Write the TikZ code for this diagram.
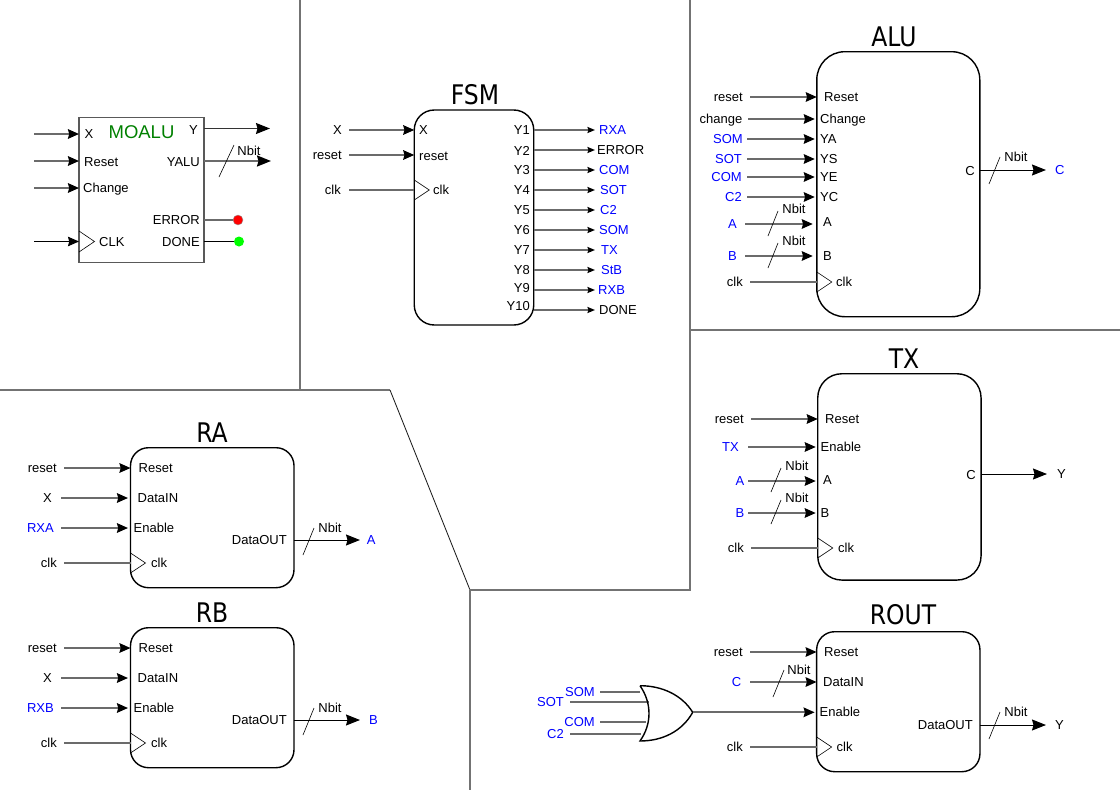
\documentclass[tikz,border=0pt]{standalone}
\usepackage{fontspec}
\setmainfont{Liberation Sans}
\newfontfamily\titlefont[FakeStretch=0.87]{DejaVu Sans}
\usetikzlibrary{arrows.meta}
\definecolor{sigblue}{HTML}{0000FF}
\definecolor{titlegreen}{HTML}{008000}
\definecolor{dotgreen}{HTML}{00FF00}

\begin{document}
\begin{tikzpicture}[x=1pt,y=-1pt]
\tikzset{
  block/.style={draw,line width=1.4pt,outer sep=0pt,inner sep=0pt},
  blocktitle/.style={inner sep=0pt,font=\titlefont\fontsize{27}{27}\selectfont},
  textbase/.style={inner ysep=0pt,text height=9.3pt,text depth=0pt,font=\fontsize{13}{13}\selectfont},
  inlabel/.style={textbase,anchor=east,inner xsep=7pt},
  outlabel/.style={textbase,anchor=west,inner xsep=4pt},
  portl/.style={textbase,anchor=west,inner xsep=0pt},
  portr/.style={textbase,anchor=east,inner xsep=0pt},
  nbit/.style={textbase,inner xsep=0pt},
  dot/.style={circle,minimum size=10pt,inner sep=0pt,outer sep=0pt},
  wire/.style={draw=black!58,line width=1.9pt},
  wiredark/.style={draw=black,line width=1pt},
  wiretip/.style={wire,-{Stealth[length=11pt,width=9.5pt,inset=1.2pt,color=black]}},
  wirebig/.style={wiredark,-{Stealth[length=14pt,width=11pt,inset=1.5pt,color=black]}},
  wiresmall/.style={wire,line width=1.6pt,-{Stealth[length=7.5pt,width=6pt,inset=1pt,color=black]}},
  slash/.style={line width=0.6pt},
  divider/.style={draw=black!55,line width=1.3pt}
}
\useasboundingbox (0,0) rectangle (1120,790);
% regions
\draw[divider] (300,0) -- (300,390);
\draw[divider] (0,390) -- (390,390);
\draw[line width=0.9pt,black!85] (390,390) -- (470,590);
\draw[divider] (470,790) -- (470,590) -- (690,590) -- (690,0);
\draw[divider] (690,330) -- (1120,330);
% MOALU
\node[block,draw=black!65,minimum width=125pt,minimum height=145pt] (n_MOALU) at (141.5,190) {};
\node[inner sep=0pt,text=titlegreen,font=\fontsize{18.5}{18.5}\selectfont] (t_MOALU) at (141.5,132) {MOALU};
\coordinate (c_x) at (34,134);
\coordinate (c_reset) at (34,161);
\coordinate (c_change) at (34,188);
\coordinate (c_clk) at (34,241.5);
\coordinate (c_y) at (270,128.5);
\coordinate (c_yalu) at (271,161);
\node[dot,draw=black!40,fill=red] (n_error) at (238,220) {};
\node[dot,fill=dotgreen] (n_done) at (239,241.5) {};
\node[portl] (p_mo_x) at (84.5,134) {X};
\node[portl] (p_mo_reset) at (84,161.5) {Reset};
\node[portl] (p_mo_change) at (83,188) {Change};
\node[portl] (p_mo_clk) at (99,242) {CLK};
\node[portr] (p_mo_y) at (198,130) {Y};
\node[portr] (p_mo_yalu) at (200,162) {YALU};
\node[portr] (p_mo_error) at (200,220) {ERROR};
\node[portr] (p_mo_done) at (200,242) {DONE};
\node[nbit] (b_mo) at (249,151) {Nbit};
\draw[wiretip] (c_x) -- (c_x -| n_MOALU.west);
\draw[wiretip] (c_reset) -- (c_reset -| n_MOALU.west);
\draw[wiretip] (c_change) -- (c_change -| n_MOALU.west);
\draw[wiretip,wiredark] (c_clk) -- (c_clk -| n_MOALU.west);
\draw[wirebig,line width=1.5pt,draw=black!80] (c_y -| n_MOALU.east) -- (c_y);
\draw[wirebig,line width=1.9pt,draw=black!58] (c_yalu -| n_MOALU.east) -- (c_yalu);
\draw[wire] (n_error -| n_MOALU.east) -- (n_error);
\draw[wiredark] (n_done -| n_MOALU.east) -- (n_done);
\draw[slash] ([shift={(-30,26)}]b_mo.center) -- ([shift={(-15,-6)}]b_mo.center);
\coordinate (k_mo) at (c_clk -| n_MOALU.west);
\draw[slash] ([yshift=10.5pt]k_mo) -- ([xshift=15.5pt]k_mo) -- ([yshift=-10.5pt]k_mo);
% FSM
\node[block,rounded corners=20pt,minimum width=119.5pt,minimum height=215pt] (n_FSM) at (474,217.5) {};
\node[blocktitle] (t_FSM) at (475,95) {FSM};
\node[inlabel] (l_fsm_x) at (349,130) {X};
\node[inlabel] (l_fsm_reset) at (349,155) {reset};
\node[inlabel,inner xsep=8pt] (l_fsm_clk) at (349,190) {clk};
\node[portl] (p_fsm_x) at (419,130) {X};
\node[portl] (p_fsm_reset) at (419,156) {reset};
\node[portl] (p_fsm_clk) at (433,190) {clk};
\node[portr] (p_fsm_y1) at (530,130) {Y1};
\node[portr] (p_fsm_y2) at (530,150.5) {Y2};
\node[portr] (p_fsm_y3) at (530,170) {Y3};
\node[portr] (p_fsm_y4) at (530,190) {Y4};
\node[portr] (p_fsm_y5) at (530,210) {Y5};
\node[portr] (p_fsm_y6) at (530,230) {Y6};
\node[portr] (p_fsm_y7) at (530,250) {Y7};
\node[portr] (p_fsm_y8) at (530,270) {Y8};
\node[portr] (p_fsm_y9) at (530,288) {Y9};
\node[portr] (p_fsm_y10) at (530,306) {Y10};
\node[outlabel,text=sigblue] (l_fsm_rxa) at (595,130) {RXA};
\node[outlabel,inner xsep=2pt] (l_fsm_error) at (595,150) {ERROR};
\node[outlabel,text=sigblue] (l_fsm_com) at (595,170) {COM};
\node[outlabel,text=sigblue,inner xsep=5pt] (l_fsm_sot) at (595,190) {SOT};
\node[outlabel,text=sigblue,inner xsep=5pt] (l_fsm_c2) at (595,210) {C2};
\node[outlabel,text=sigblue] (l_fsm_som) at (595,230) {SOM};
\node[outlabel,text=sigblue,inner xsep=6pt] (l_fsm_tx) at (595,250) {TX};
\node[outlabel,text=sigblue,inner xsep=6pt] (l_fsm_stb) at (595,270) {StB};
\node[outlabel,text=sigblue,inner xsep=3pt] (l_fsm_rxb) at (595,290) {RXB};
\node[outlabel] (l_fsm_done) at (595,310) {DONE};
\draw[wiretip] (l_fsm_x.east) -- (l_fsm_x.east -| n_FSM.west);
\draw[wiretip] (l_fsm_reset.east) -- (l_fsm_reset.east -| n_FSM.west);
\coordinate (k_fsm) at (l_fsm_clk.east -| n_FSM.west);
\draw[wire] (l_fsm_clk.east) -- (k_fsm);
\draw[slash] ([yshift=10pt]k_fsm) -- ([xshift=15pt]k_fsm) -- ([yshift=-10pt]k_fsm);
\draw[wiresmall] (l_fsm_rxa.west -| n_FSM.east) -- (l_fsm_rxa.west);
\draw[wiresmall] (l_fsm_error.west -| n_FSM.east) -- (l_fsm_error.west);
\draw[wiresmall] (l_fsm_com.west -| n_FSM.east) -- (l_fsm_com.west);
\draw[wiresmall] (l_fsm_sot.west -| n_FSM.east) -- (l_fsm_sot.west);
\draw[wiresmall] (l_fsm_c2.west -| n_FSM.east) -- (l_fsm_c2.west);
\draw[wiresmall] (l_fsm_som.west -| n_FSM.east) -- (l_fsm_som.west);
\draw[wiresmall] (l_fsm_tx.west -| n_FSM.east) -- (l_fsm_tx.west);
\draw[wiresmall] (l_fsm_stb.west -| n_FSM.east) -- (l_fsm_stb.west);
\draw[wiresmall] (l_fsm_rxb.west -| n_FSM.east) -- (l_fsm_rxb.west);
\draw[wiresmall] (l_fsm_done.west -| n_FSM.east) -- (l_fsm_done.west);
% ALU
\node[block,rounded corners=28pt,minimum width=163pt,minimum height=265pt] (n_ALU) at (898.3,184.2) {};
\node[blocktitle] (t_ALU) at (894,37) {ALU};
\node[inlabel] (l_alu_reset) at (750,97) {reset};
\node[inlabel,inner xsep=5.5pt] (l_alu_change) at (748,119) {change};
\node[inlabel,inner xsep=4pt,text=sigblue] (l_alu_som) at (747,139) {SOM};
\node[inlabel,inner xsep=5pt,text=sigblue] (l_alu_sot) at (747,159) {SOT};
\node[inlabel,inner xsep=5pt,text=sigblue] (l_alu_com) at (747,177) {COM};
\node[inlabel,inner xsep=5pt,text=sigblue] (l_alu_c2) at (747,197) {C2};
\node[inlabel,inner xsep=8pt,text=sigblue] (l_alu_a) at (745,224) {A};
\node[inlabel,inner xsep=8pt,text=sigblue] (l_alu_b) at (745,256) {B};
\node[inlabel] (l_alu_clk) at (750,282) {clk};
\node[portl] (p_alu_reset) at (824,97) {Reset};
\node[portl] (p_alu_change) at (820,119) {Change};
\node[portl] (p_alu_ya) at (820,139) {YA};
\node[portl] (p_alu_ys) at (820,159) {YS};
\node[portl] (p_alu_ye) at (820,177) {YE};
\node[portl] (p_alu_yc) at (820,197) {YC};
\node[portl] (p_alu_a) at (823,222) {A};
\node[portl] (p_alu_b) at (823,256) {B};
\node[portl] (p_alu_clk) at (836,282) {clk};
\node[portr] (p_alu_c) at (975,171) {C};
\node[nbit] (b_alu_a) at (794,209) {Nbit};
\node[nbit] (b_alu_b) at (794,241) {Nbit};
\node[nbit] (b_alu_c) at (1016,157) {Nbit};
\node[outlabel,inner xsep=9pt,text=sigblue] (l_alu_c) at (1046,170) {C};
\draw[wiretip] (l_alu_reset.east) -- (l_alu_reset.east -| n_ALU.west);
\draw[wiretip,shorten >=2pt] (l_alu_change.east) -- (l_alu_change.east -| n_ALU.west);
\draw[wiretip,shorten >=2pt] (l_alu_som.east) -- (l_alu_som.east -| n_ALU.west);
\draw[wiretip,shorten >=2pt] (l_alu_sot.east) -- (l_alu_sot.east -| n_ALU.west);
\draw[wiretip,shorten >=2pt] (l_alu_com.east) -- (l_alu_com.east -| n_ALU.west);
\draw[wiretip,shorten >=2pt] (l_alu_c2.east) -- (l_alu_c2.east -| n_ALU.west);
\draw[wiretip,shorten >=4pt] (l_alu_a.east) -- (l_alu_a.east -| n_ALU.west);
\draw[wiretip,shorten >=4pt] (l_alu_b.east) -- (l_alu_b.east -| n_ALU.west);
\coordinate (k_alu) at (l_alu_clk.east -| n_ALU.west);
\draw[wire] (l_alu_clk.east) -- (k_alu);
\draw[slash] ([yshift=10pt]k_alu) -- ([xshift=15pt]k_alu) -- ([yshift=-10pt]k_alu);
\draw[wirebig] (l_alu_c.west -| n_ALU.east) -- (l_alu_c.west);
\draw[slash] ([shift={(-26,27)}]b_alu_a.center) -- ([shift={(-16,2)}]b_alu_a.center);
\draw[slash] ([shift={(-26,27)}]b_alu_b.center) -- ([shift={(-16,2)}]b_alu_b.center);
\draw[slash] ([shift={(-27,27)}]b_alu_c.center) -- ([shift={(-16,0)}]b_alu_c.center);
% TX
\node[block,rounded corners=24pt,minimum width=163.3pt,minimum height=206.3pt] (n_TX) at (899.4,476.9) {};
\node[blocktitle] (t_TX) at (904,359) {TX};
\node[inlabel] (l_tx_reset) at (751,419) {reset};
\node[inlabel,inner xsep=9pt,text=sigblue] (l_tx_tx) at (748,447) {TX};
\node[inlabel,inner xsep=3.5pt,text=sigblue] (l_tx_a) at (748,481) {A};
\node[inlabel,inner xsep=3.5pt,text=sigblue] (l_tx_b) at (748,513) {B};
\node[inlabel] (l_tx_clk) at (751,548) {clk};
\node[portl] (p_tx_reset) at (825,418.5) {Reset};
\node[portl] (p_tx_enable) at (820.5,447) {Enable};
\node[portl] (p_tx_a) at (823,480) {A};
\node[portl] (p_tx_b) at (820.5,513) {B};
\node[portl] (p_tx_clk) at (838,548) {clk};
\node[portr] (p_tx_c) at (976,475) {C};
\node[nbit] (b_tx_a) at (797,466) {Nbit};
\node[nbit] (b_tx_b) at (797,498) {Nbit};
\node[outlabel,inner xsep=10pt] (l_tx_y) at (1047,474) {Y};
\draw[wiretip] (l_tx_reset.east) -- (l_tx_reset.east -| n_TX.west);
\draw[wiretip,shorten >=2pt] (l_tx_tx.east) -- (l_tx_tx.east -| n_TX.west);
\draw[wiretip,shorten >=2pt] (l_tx_a.east) -- (l_tx_a.east -| n_TX.west);
\draw[wiretip,shorten >=2pt] (l_tx_b.east) -- (l_tx_b.east -| n_TX.west);
\coordinate (k_tx) at (l_tx_clk.east -| n_TX.west);
\draw[wire] (l_tx_clk.east) -- (k_tx);
\draw[slash] ([yshift=10pt]k_tx) -- ([xshift=15pt]k_tx) -- ([yshift=-10pt]k_tx);
\draw[wirebig] (l_tx_y.west -| n_TX.east) -- (l_tx_y.west);
\draw[slash] ([shift={(-26,26)}]b_tx_a.center) -- ([shift={(-16,2)}]b_tx_a.center);
\draw[slash] ([shift={(-26,26)}]b_tx_b.center) -- ([shift={(-16,2)}]b_tx_b.center);
% RA
\node[block,rounded corners=18pt,minimum width=163.5pt,minimum height=140pt] (n_RA) at (212.25,517.7) {};
\node[blocktitle] (t_RA) at (212,433) {RA};
\node[inlabel] (l_ra_reset) at (64,468) {reset};
\node[inlabel,inner xsep=9pt] (l_ra_x) at (61,498) {X};
\node[inlabel,text=sigblue] (l_ra_rxa) at (61,528) {RXA};
\node[inlabel] (l_ra_clk) at (64,563) {clk};
\node[portl] (p_ra_reset) at (138.5,467.5) {Reset};
\node[portl] (p_ra_in) at (137.5,498) {DataIN};
\node[portl] (p_ra_enable) at (133.5,528) {Enable};
\node[portl] (p_ra_clk) at (151,563) {clk};
\node[portr] (p_ra_out) at (287,540) {DataOUT};
\node[nbit] (b_ra) at (330,528) {Nbit};
\node[outlabel,inner xsep=6.7pt,text=sigblue] (l_ra_a) at (360,540) {A};
\draw[wiretip] (l_ra_reset.east) -- (l_ra_reset.east -| n_RA.west);
\draw[wiretip,shorten >=2.5pt] (l_ra_x.east) -- (l_ra_x.east -| n_RA.west);
\draw[wiretip,shorten >=2.5pt] (l_ra_rxa.east) -- (l_ra_rxa.east -| n_RA.west);
\coordinate (k_ra) at (l_ra_clk.east -| n_RA.west);
\draw[wire] (l_ra_clk.east) -- (k_ra);
\draw[slash] ([yshift=10pt]k_ra) -- ([xshift=15pt]k_ra) -- ([yshift=-10pt]k_ra);
\draw[wirebig] (l_ra_a.west -| n_RA.east) -- (l_ra_a.west);
\draw[slash] ([shift={(-27,27)}]b_ra.center) -- ([shift={(-16,0)}]b_ra.center);
% RB
\node[block,rounded corners=18pt,minimum width=163.5pt,minimum height=140pt] (n_RB) at (212.25,697.7) {};
\node[blocktitle] (t_RB) at (212,613) {RB};
\node[inlabel] (l_rb_reset) at (64,648) {reset};
\node[inlabel,inner xsep=9pt] (l_rb_x) at (61,678) {X};
\node[inlabel,text=sigblue] (l_rb_rxb) at (61,708) {RXB};
\node[inlabel] (l_rb_clk) at (64,743) {clk};
\node[portl] (p_rb_reset) at (138.5,647.5) {Reset};
\node[portl] (p_rb_in) at (137.5,678) {DataIN};
\node[portl] (p_rb_enable) at (133.5,708) {Enable};
\node[portl] (p_rb_clk) at (151,743) {clk};
\node[portr] (p_rb_out) at (287,720) {DataOUT};
\node[nbit] (b_rb) at (330,708) {Nbit};
\node[outlabel,inner xsep=9pt,text=sigblue] (l_rb_b) at (360,720) {B};
\draw[wiretip] (l_rb_reset.east) -- (l_rb_reset.east -| n_RB.west);
\draw[wiretip,shorten >=2.5pt] (l_rb_x.east) -- (l_rb_x.east -| n_RB.west);
\draw[wiretip,shorten >=2.5pt] (l_rb_rxb.east) -- (l_rb_rxb.east -| n_RB.west);
\coordinate (k_rb) at (l_rb_clk.east -| n_RB.west);
\draw[wire] (l_rb_clk.east) -- (k_rb);
\draw[slash] ([yshift=10pt]k_rb) -- ([xshift=15pt]k_rb) -- ([yshift=-10pt]k_rb);
\draw[wirebig] (l_rb_b.west -| n_RB.east) -- (l_rb_b.west);
\draw[slash] ([shift={(-27,27)}]b_rb.center) -- ([shift={(-16,0)}]b_rb.center);
% ROUT
\node[block,rounded corners=18pt,minimum width=163.3pt,minimum height=140pt] (n_ROUT) at (898.3,701.7) {};
\node[blocktitle] (t_ROUT) at (903,615) {ROUT};
\node[inlabel] (l_rout_reset) at (750,652) {reset};
\node[inlabel,inner xsep=8.5pt,text=sigblue] (l_rout_c) at (750,682) {C};
\node[inlabel] (l_rout_clk) at (750,747) {clk};
\node[inlabel,inner xsep=5pt,text=sigblue] (l_or_som) at (600,692) {SOM};
\node[inlabel,inner xsep=6pt,text=sigblue] (l_or_sot) at (570,702) {SOT};
\node[inlabel,inner xsep=5pt,text=sigblue] (l_or_com) at (600,722) {COM};
\node[inlabel,inner xsep=6pt,text=sigblue] (l_or_c2) at (570,734) {C2};
\node[portl] (p_rout_reset) at (824,651.5) {Reset};
\node[portl] (p_rout_in) at (823,682) {DataIN};
\node[portl] (p_rout_enable) at (819.5,712) {Enable};
\node[portl] (p_rout_clk) at (836.5,747) {clk};
\node[portr] (p_rout_out) at (973,725) {DataOUT};
\node[nbit] (b_rout_c) at (799,670) {Nbit};
\node[nbit] (b_rout_out) at (1016,712) {Nbit};
\node[outlabel,inner xsep=9pt] (l_rout_y) at (1046,725) {Y};
\coordinate (or_top) at (640,685.7);
\coordinate (or_bot) at (640,741);
\coordinate (or_tip) at (692.7,712.3);
\coordinate (or_a) at (640,692);
\coordinate (or_b) at (649,702);
\coordinate (or_c) at (646,722);
\coordinate (or_d) at (641,734);
\draw[wire] (l_or_som.east) -- (or_a);
\draw[wire] (l_or_sot.east) -- (or_b);
\draw[wire] (l_or_com.east) -- (or_c);
\draw[wire] (l_or_c2.east) -- (or_d);
\draw[line width=1.4pt] (or_top) .. controls (652,703) and (652,724) .. (or_bot) .. controls (662,741) and (682,731.6) .. (or_tip) .. controls (682,695) and (662,685.7) .. (or_top);
\draw[wiretip,shorten >=2pt] (or_tip) -- (or_tip -| n_ROUT.west);
\draw[wiretip] (l_rout_reset.east) -- (l_rout_reset.east -| n_ROUT.west);
\draw[wiretip] (l_rout_c.east) -- (l_rout_c.east -| n_ROUT.west);
\coordinate (k_rout) at (l_rout_clk.east -| n_ROUT.west);
\draw[wire] (l_rout_clk.east) -- (k_rout);
\draw[slash] ([yshift=10pt]k_rout) -- ([xshift=15pt]k_rout) -- ([yshift=-10pt]k_rout);
\draw[wirebig] (l_rout_y.west -| n_ROUT.east) -- (l_rout_y.west);
\draw[slash] ([shift={(-26,27)}]b_rout_c.center) -- ([shift={(-15,0)}]b_rout_c.center);
\draw[slash] ([shift={(-27,27)}]b_rout_out.center) -- ([shift={(-16,0)}]b_rout_out.center);
\end{tikzpicture}
\end{document}
